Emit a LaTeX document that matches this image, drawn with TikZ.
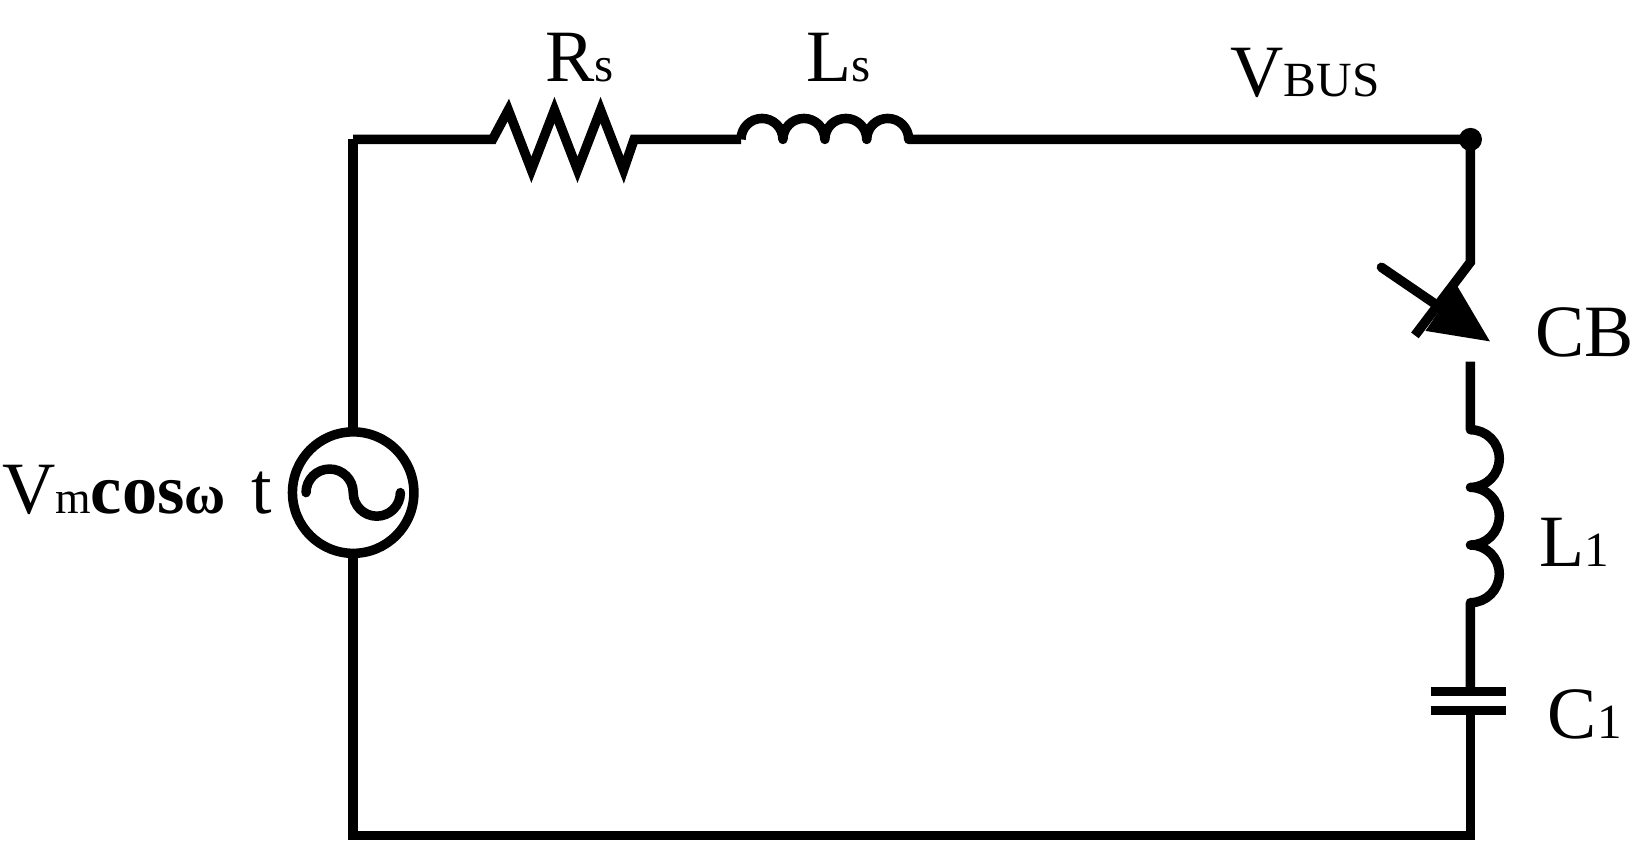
\documentclass[tikz,border=0pt]{standalone}
\usepackage{fontspec}
\setmainfont{Liberation Serif}
\usetikzlibrary{arrows.meta}
\begin{document}
\begin{tikzpicture}[x=0.01048cm,y=-0.01048cm,line width=2.7pt,line join=miter,
  lbl/.style={font=\fontsize{21}{24}\selectfont,inner sep=0pt}]
\useasboundingbox (0,0) rectangle (1560,821.5);
\coordinate (TL) at (337,133);
\coordinate (BL) at (337,797);
\coordinate (TR) at (1403,133);
\coordinate (BR) at (1403,797);
\coordinate (srcT) at (337,412);
\coordinate (srcB) at (337,528);
% top wire with resistor and inductor
\draw (TL) -- (470,133) -- (485,105) -- (507,162) -- (529,105) -- (551,162) -- (573,105) -- (595,162) -- (605,133) -- (707,133);
\draw[line join=round] (707,133)
  arc[start angle=180,end angle=360,radius=20] arc[start angle=180,end angle=360,radius=20]
  arc[start angle=180,end angle=360,radius=20] arc[start angle=180,end angle=360,radius=20]
  -- (TR);
\fill (TR) circle[radius=11];
% right branch
\draw (TR) -- (1403,250) -- (1350,320);
\draw[line cap=round,-{Triangle[length=17pt,width=15pt]}] (1318,255) -- (1422,326);
\draw[line join=round] (1403,345) -- (1403,410) arc[start angle=-90,end angle=90,radius=27.5]
  arc[start angle=-90,end angle=90,radius=27.5] arc[start angle=-90,end angle=90,radius=27.5]
  -- (1403,660);
\draw (1365,660) -- (1437,660);
\draw (1365,678) -- (1437,678);
\draw (1403,678) -- (BR) -- (BL) -- (srcB);
% source
\draw (srcT) -- (TL);
\node[circle,draw,minimum size=1.215cm,inner sep=0pt] (src) at (337,470) {};
\draw[line cap=round] (292,470) arc[start angle=180,end angle=360,radius=22.5] arc[start angle=180,end angle=0,radius=22.5];
% labels
\node[lbl] at (553,55) {R\fontsize{14}{16}\selectfont s};
\node[lbl] at (800,55) {L\fontsize{14}{16}\selectfont s};
\node[lbl] at (1245,70) {V\fontsize{14}{16}\selectfont BUS};
\node[lbl] at (1512,317) {CB};
\node[lbl] at (1502,517) {L\fontsize{14}{16}\selectfont 1};
\node[lbl] at (1512,682) {C\fontsize{14}{16}\selectfont 1};
\node[lbl,anchor=base east] at (264,490) {V\fontsize{13}{16}\selectfont m\fontsize{20}{26}\selectfont \textbf{cos}\fontsize{16}{22}\selectfont\textbf{ω}\fontsize{21}{24}\selectfont\hspace{0.35em}t};
\end{tikzpicture}
\end{document}
